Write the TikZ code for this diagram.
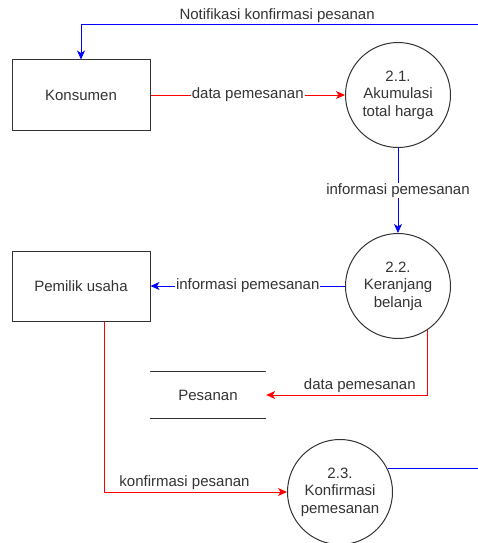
\documentclass[tikz,border=0pt]{standalone}
\usepackage{fontspec}
\setmainfont{Liberation Sans}
\usetikzlibrary{arrows.meta}
\definecolor{ink}{HTML}{333333}
\definecolor{flowred}{HTML}{FF0000}
\definecolor{flowblue}{HTML}{0000FF}
\tikzset{
  entity/.style={draw=ink, line width=1pt, minimum width=138pt, minimum height=70pt,
    text=ink, inner sep=0pt},
  process/.style={circle, draw=ink, line width=1pt, minimum size=105pt, inner sep=0pt,
    align=center, text=ink},
  store/.style={minimum width=116pt, minimum height=46pt, inner sep=0pt, text=ink},
  tip/.style={-{Stealth[length=9pt,width=8pt,inset=2.5pt]}},
  redflow/.style={draw=flowred, line width=1pt, tip},
  blueflow/.style={draw=flowblue, line width=1pt, tip},
  blueline/.style={draw=flowblue, line width=1pt},
  onlabel/.style={fill=white, text=ink, inner sep=1pt},
  sidelabel/.style={text=ink, inner sep=2pt}
}
\begin{document}
\begin{tikzpicture}[x=1pt, y=-1pt, font=\fontsize{15}{17.5}\selectfont]
\useasboundingbox (0,0) rectangle (478,543);

% external entities
\node[entity] (kons) at (81,95) {Konsumen};
\node[entity] (pem) at (81,286) {Pemilik usaha};

% processes
\node[process] (p21) at (398,95) {2.1.\\Akumulasi\\total harga};
\node[process] (p22) at (398,286) {2.2.\\Keranjang\\belanja};
\node[process] (p23) at (340,492) {2.3.\\Konfirmasi\\pemesanan};

% data store
\node[store] (pes) at (208,395) {Pesanan};
\draw[ink, line width=1pt] (pes.north west) -- (pes.north east);
\draw[ink, line width=1pt] (pes.south west) -- (pes.south east);

% free ends at the right border
\coordinate (topR) at (478,25);
\coordinate (botR) at (478,469);

% data flows
\draw[redflow] (kons) -- node[onlabel] {data pemesanan} (p21);
\draw[blueflow] (p21) -- node[onlabel] {informasi pemesanan} (p22);
\draw[blueflow] (p22) -- node[onlabel] {informasi pemesanan} (pem);
\draw[redflow] (p22.-56.5) |- node[pos=0.71, above, sidelabel] {data pemesanan} (pes.east);
\draw[redflow] ([xshift=23pt]pem.south) |- node[pos=0.72, above, sidelabel] {konfirmasi pesanan} (p23.west);
\draw[blueline] (p23.26) -- (p23.26 -| botR);
\draw[blueflow] (topR) -| node[pos=0.253, above, sidelabel] {Notifikasi konfirmasi pesanan} (kons.north);
\end{tikzpicture}
\end{document}
